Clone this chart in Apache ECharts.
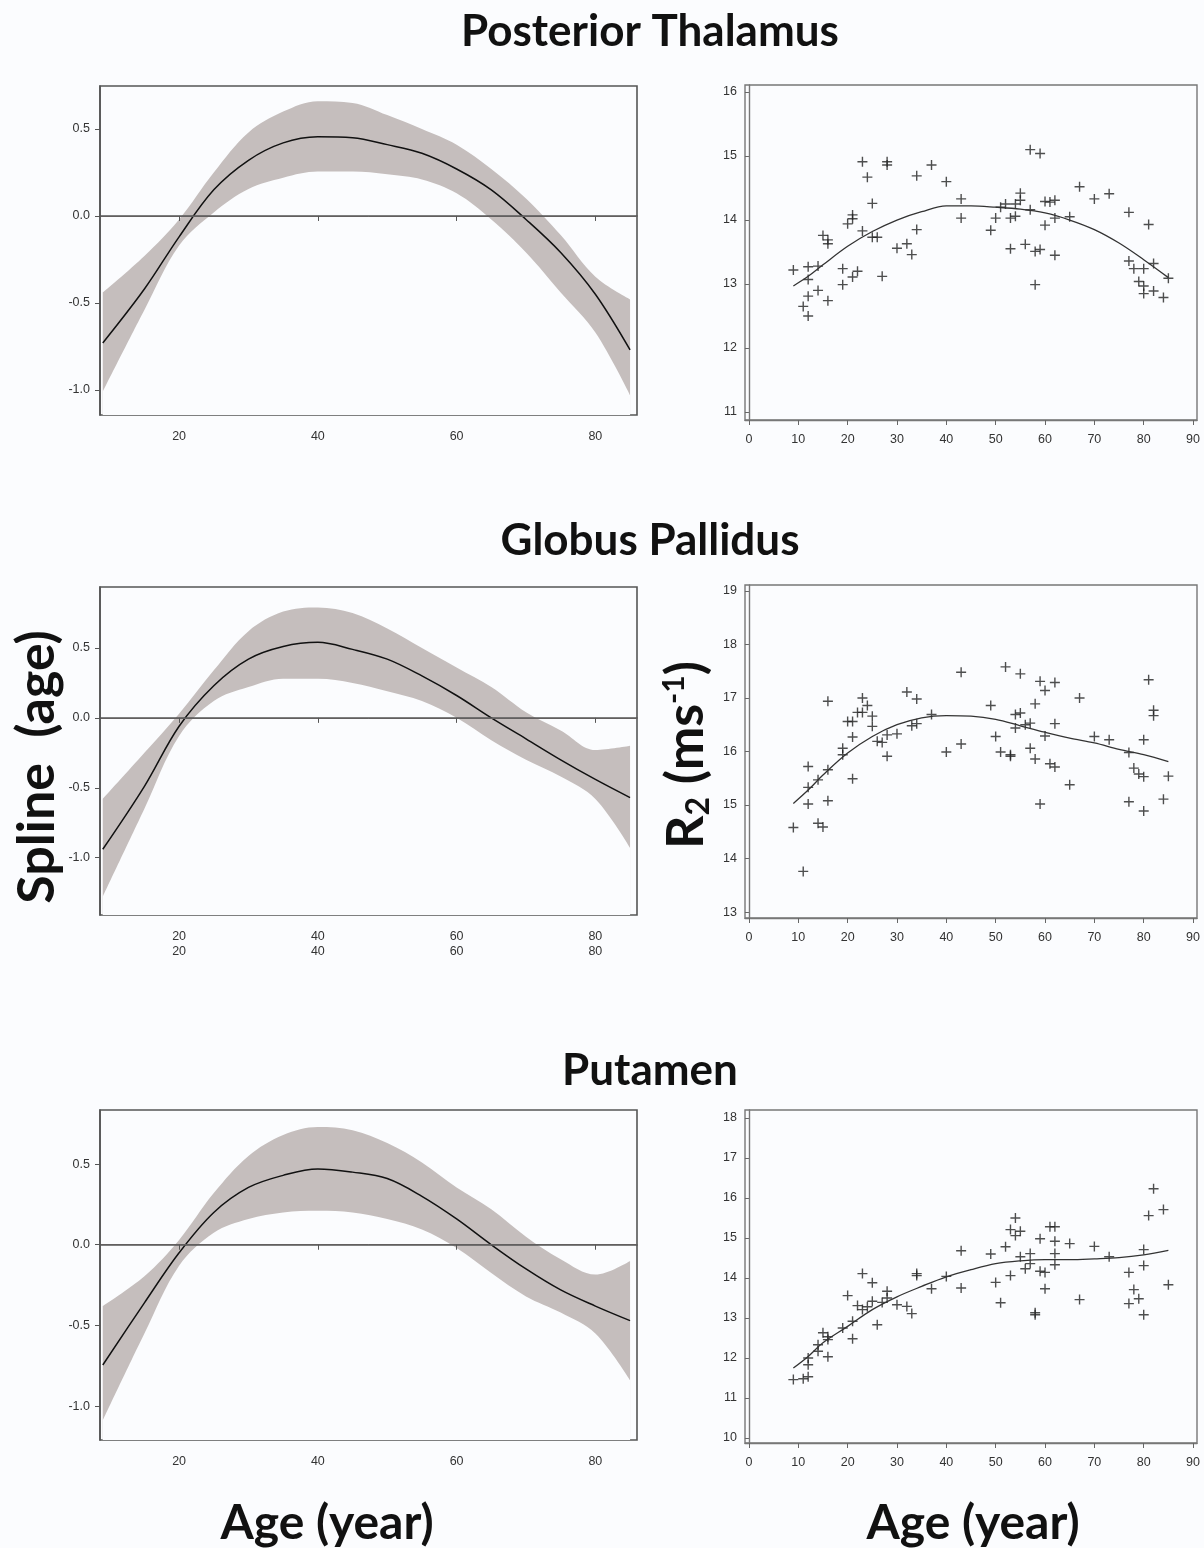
<!DOCTYPE html>
<html>
<head>
<meta charset="utf-8">
<script src="https://cdn.jsdelivr.net/npm/echarts@6/dist/echarts.min.js"></script>
<style>
  html, body { margin: 0; padding: 0; background: #fbfcfe; }
  #chart { width: 1204px; height: 1548px; }
</style>
</head>
<body>
<div id="chart"></div>
<script>
// spline(age) curves, read at these ages
var splineAges = [9, 15, 20, 25, 30, 35, 40, 45, 50, 55, 60, 65, 70, 75, 80, 85]

var thalMean = [-0.73, -0.42, -0.12, 0.15, 0.32, 0.42, 0.455, 0.45, 0.41, 0.36, 0.27, 0.15, -0.02, -0.21, -0.45, -0.77]
var thalUpper = [-0.44, -0.23, -0.02, 0.25, 0.48, 0.60, 0.66, 0.65, 0.58, 0.50, 0.41, 0.27, 0.10, -0.11, -0.35, -0.48]
var thalLower = [-1.01, -0.54, -0.17, 0.02, 0.155, 0.22, 0.255, 0.255, 0.24, 0.21, 0.13, -0.02, -0.21, -0.44, -0.67, -1.03]

var pallMean = [-0.94, -0.49, -0.06, 0.23, 0.42, 0.51, 0.54, 0.49, 0.42, 0.30, 0.16, 0.0, -0.15, -0.30, -0.44, -0.57]
var pallUpper = [-0.58, -0.25, 0.03, 0.34, 0.62, 0.76, 0.79, 0.75, 0.64, 0.50, 0.36, 0.22, 0.04, -0.09, -0.23, -0.20]
var pallLower = [-1.28, -0.65, -0.13, 0.12, 0.22, 0.28, 0.28, 0.25, 0.19, 0.12, 0.0, -0.16, -0.30, -0.42, -0.58, -0.93]

var putMean = [-0.745, -0.36, -0.05, 0.20, 0.355, 0.43, 0.47, 0.45, 0.41, 0.30, 0.16, 0.0, -0.15, -0.28, -0.38, -0.47]
var putUpper = [-0.38, -0.195, 0.03, 0.32, 0.55, 0.68, 0.73, 0.71, 0.63, 0.51, 0.355, 0.22, 0.05, -0.09, -0.185, -0.10]
var putLower = [-1.09, -0.55, -0.13, 0.075, 0.16, 0.20, 0.21, 0.20, 0.16, 0.095, -0.02, -0.175, -0.32, -0.42, -0.55, -0.84]

// R2 fitted curves
var fitAges = [9, 12, 15, 20, 25, 30, 35, 40, 45, 50, 55, 60, 65, 70, 75, 80, 85]
var thalFit = [12.97, 13.12, 13.30, 13.59, 13.82, 14.00, 14.13, 14.22, 14.22, 14.20, 14.17, 14.11, 14.00, 13.85, 13.64, 13.38, 13.10]
var pallFit = [15.03, 15.28, 15.56, 15.97, 16.28, 16.50, 16.63, 16.67, 16.66, 16.60, 16.48, 16.36, 16.25, 16.16, 16.04, 15.94, 15.81]
var putFit = [11.75, 12.04, 12.38, 12.79, 13.21, 13.53, 13.79, 14.03, 14.21, 14.36, 14.43, 14.46, 14.46, 14.48, 14.51, 14.58, 14.69]

// subjects (age, R2)
var thalAge = [9, 11, 12, 12, 12, 12, 14, 14, 15, 16, 16, 16, 19, 19, 20, 21, 21, 21, 22, 23, 23, 24, 25, 25, 26, 27, 28, 28, 30, 32, 33, 34, 34, 37, 40, 43, 43, 49, 50, 51, 52, 53, 53, 54, 54, 55, 55, 56, 57, 57, 58, 58, 59, 59, 60, 60, 61, 62, 62, 62, 65, 67, 70, 73, 77, 77, 78, 79, 80, 80, 80, 81, 82, 82, 84, 85]
var thalR2 = [13.22, 12.65, 13.27, 13.07, 12.81, 12.5, 13.28, 12.9, 13.76, 13.69, 13.63, 12.74, 13.24, 12.99, 13.94, 14.08, 14.02, 13.11, 13.2, 14.91, 13.83, 14.67, 14.26, 13.73, 13.73, 13.12, 14.91, 14.86, 13.56, 13.63, 13.46, 14.69, 13.85, 14.86, 14.6, 14.33, 14.03, 13.84, 14.03, 14.2, 14.25, 14.03, 13.55, 14.06, 14.25, 14.42, 14.31, 13.62, 15.1, 14.16, 13.51, 12.99, 15.04, 13.54, 14.29, 13.92, 14.28, 14.31, 14.03, 13.45, 14.05, 14.52, 14.33, 14.41, 14.12, 13.36, 13.24, 13.04, 13.24, 12.97, 12.85, 13.93, 13.32, 12.89, 12.79, 13.09]

var pallAge = [9, 11, 12, 12, 12, 14, 14, 15, 16, 16, 16, 19, 19, 20, 21, 21, 21, 22, 23, 23, 24, 25, 25, 26, 27, 28, 28, 30, 32, 33, 34, 34, 37, 40, 43, 43, 49, 50, 51, 52, 53, 53, 54, 54, 55, 55, 56, 57, 57, 58, 58, 59, 59, 60, 60, 61, 62, 62, 62, 65, 67, 70, 73, 77, 77, 78, 79, 80, 80, 80, 81, 82, 82, 84, 85]
var pallR2 = [14.58, 13.76, 15.72, 15.33, 15.02, 15.47, 14.66, 14.59, 16.94, 15.66, 15.08, 16.06, 15.94, 16.56, 16.56, 16.27, 15.49, 16.73, 17.0, 16.73, 16.86, 16.66, 16.47, 16.19, 16.17, 16.31, 15.91, 16.33, 17.11, 16.48, 16.98, 16.52, 16.69, 15.99, 17.48, 16.14, 16.86, 16.28, 15.99, 17.58, 15.94, 15.91, 16.69, 16.44, 17.45, 16.72, 16.5, 16.53, 16.06, 16.89, 15.86, 17.31, 15.02, 17.14, 16.29, 15.77, 17.29, 16.52, 15.71, 15.38, 17.0, 16.28, 16.22, 15.98, 15.06, 15.69, 15.58, 16.22, 15.53, 14.89, 17.34, 16.77, 16.67, 15.11, 15.54]

var putAge = [9, 11, 12, 12, 12, 14, 14, 15, 16, 16, 16, 19, 20, 21, 21, 22, 23, 23, 24, 25, 25, 26, 27, 28, 28, 30, 32, 33, 34, 34, 37, 40, 43, 43, 49, 50, 51, 52, 53, 53, 54, 54, 55, 55, 56, 57, 57, 58, 58, 59, 59, 60, 60, 61, 62, 62, 62, 62, 65, 67, 70, 73, 77, 77, 78, 79, 80, 80, 80, 81, 82, 84, 85]
var putR2 = [11.46, 11.48, 11.53, 11.83, 12.0, 12.17, 12.33, 12.63, 12.03, 12.46, 12.53, 12.75, 13.56, 12.48, 12.92, 13.31, 14.11, 13.21, 13.28, 13.88, 13.42, 12.83, 13.39, 13.67, 13.5, 13.33, 13.29, 13.11, 14.11, 14.06, 13.73, 14.04, 14.68, 13.75, 14.6, 13.89, 13.38, 14.78, 15.21, 14.06, 15.5, 15.06, 15.17, 14.53, 14.23, 14.61, 14.36, 13.13, 13.08, 14.98, 14.17, 14.14, 13.73, 15.28, 15.28, 14.92, 14.61, 14.33, 14.86, 13.46, 14.79, 14.53, 14.14, 13.36, 13.71, 13.48, 14.71, 14.31, 13.08, 15.56, 16.23, 15.71, 13.83]

var titles = ['Posterior Thalamus', 'Globus Pallidus', 'Putamen']

var chart = echarts.init(document.getElementById('chart'))

var bg = '#fbfcfe'
var bandColor = '#c5bebd'
var tickFont = {
  color: '#333',
  fontFamily: 'Liberation Sans Narrow, Liberation Sans, Arial',
  fontSize: 12.5
}
var bigFont = 'Lato'
var plusPath = 'path://M4.3,0h1.4v4.3h4.3v1.4h-4.3v4.3h-1.4v-4.3h-4.3v-1.4h4.3z'

function pairs (xs, ys) {
  return xs.map(function (x, i) { return [x, ys[i]] })
}

var grids = [
  { left: 100, top: 86, width: 537, height: 329 },
  { left: 745, top: 85, width: 452, height: 335 },
  { left: 100, top: 587, width: 537, height: 328 },
  { left: 745, top: 585, width: 452, height: 333 },
  { left: 100, top: 1110, width: 537, height: 330 },
  { left: 745, top: 1110, width: 452, height: 333 }
]
grids.forEach(function (g, i) {
  g.show = true
  g.borderColor = i % 2 ? '#777' : '#555'
  g.borderWidth = i % 2 ? 1.4 : 1.6
  g.backgroundColor = 'transparent'
  g.containLabel = false
})

var splineY = [
  { min: -1.144, max: 0.747 },
  { min: -1.41, max: 0.936 },
  { min: -1.21, max: 0.835 }
]
var r2Y = [
  { min: 10.875, max: 16.11, ticks: [11, 12, 13, 14, 15, 16] },
  { min: 12.89, max: 19.11, ticks: [13, 14, 15, 16, 17, 18, 19] },
  { min: 9.875, max: 18.2, ticks: [10, 11, 12, 13, 14, 15, 16, 17, 18] }
]
var spl = [
  [thalMean, thalUpper, thalLower],
  [pallMean, pallUpper, pallLower],
  [putMean, putUpper, putLower]
]
var fits = [thalFit, pallFit, putFit]
var pts = [[thalAge, thalR2], [pallAge, pallR2], [putAge, putR2]]

var xAxes = []
var yAxes = []
var series = []

for (var p = 0; p < 3; p++) {
  var gl = p * 2
  var gr = p * 2 + 1
  var doubled = p === 1

  // left: spline(age)
  xAxes.push({
    type: 'value',
    gridIndex: gl,
    min: 8.6,
    max: 86,
    z: 10,
    splitLine: { show: false },
    axisLine: { lineStyle: { color: '#555', width: 1.6 } },
    axisTick: { length: 5, customValues: [20, 40, 60, 80], lineStyle: { color: '#555' } },
    axisLabel: Object.assign({
      margin: 14,
      lineHeight: 15,
      customValues: [20, 40, 60, 80],
      formatter: doubled ? function (v) { return v + '\n' + v } : function (v) { return '' + v }
    }, tickFont)
  })
  yAxes.push({
    type: 'value',
    gridIndex: gl,
    min: splineY[p].min,
    max: splineY[p].max,
    z: 10,
    splitLine: { show: false },
    axisLine: { lineStyle: { color: '#555', width: 1.6 } },
    axisTick: { length: 5, customValues: [-1, -0.5, 0, 0.5], lineStyle: { color: '#555' } },
    axisLabel: Object.assign({
      margin: 10,
      customValues: [-1, -0.5, 0, 0.5],
      formatter: function (v) { return v.toFixed(1) }
    }, tickFont)
  })

  // right: R2 vs age
  xAxes.push({
    type: 'value',
    gridIndex: gr,
    min: -0.8,
    max: 90.8,
    splitLine: { show: false },
    axisLine: { lineStyle: { color: '#777', width: 1.4 } },
    axisTick: { length: 5, customValues: [0, 10, 20, 30, 40, 50, 60, 70, 80, 90], lineStyle: { color: '#666' } },
    axisLabel: Object.assign({
      margin: 13,
      customValues: [0, 10, 20, 30, 40, 50, 60, 70, 80, 90]
    }, tickFont)
  })
  yAxes.push({
    type: 'value',
    gridIndex: gr,
    min: r2Y[p].min,
    max: r2Y[p].max,
    splitLine: { show: false },
    axisLine: { lineStyle: { color: '#777', width: 1.4 } },
    axisTick: { length: 4, customValues: r2Y[p].ticks, lineStyle: { color: '#666' } },
    axisLabel: Object.assign({ margin: 8, customValues: r2Y[p].ticks }, tickFont)
  })

  var m = spl[p][0]
  var up = spl[p][1]
  var lo = spl[p][2]

  // confidence band: upper area filled down, then lower area masked with background
  series.push({
    type: 'line',
    xAxisIndex: gl,
    yAxisIndex: gl,
    smooth: 0.35,
    symbol: 'none',
    lineStyle: { opacity: 0 },
    areaStyle: { color: bandColor, opacity: 1, origin: 'start' },
    data: pairs(splineAges, up),
    silent: true,
    z: 1
  })
  series.push({
    type: 'line',
    xAxisIndex: gl,
    yAxisIndex: gl,
    smooth: 0.35,
    symbol: 'none',
    lineStyle: { opacity: 0 },
    areaStyle: { color: bg, opacity: 1, origin: 'start' },
    data: pairs(splineAges, lo),
    silent: true,
    z: 2
  })
  series.push({
    type: 'line',
    xAxisIndex: gl,
    yAxisIndex: gl,
    smooth: 0.35,
    symbol: 'none',
    lineStyle: { color: '#111', width: 1.5 },
    data: pairs(splineAges, m),
    z: 3,
    markLine: {
      silent: true,
      symbol: 'none',
      label: { show: false },
      lineStyle: { color: '#8a7f7c', width: 1, type: 'solid' },
      data: [{ yAxis: 0 }]
    }
  })

  // scatter + fitted line
  series.push({
    type: 'scatter',
    xAxisIndex: gr,
    yAxisIndex: gr,
    symbol: plusPath,
    symbolSize: 10,
    itemStyle: { color: '#222' },
    data: pairs(pts[p][0], pts[p][1])
  })
  series.push({
    type: 'line',
    xAxisIndex: gr,
    yAxisIndex: gr,
    smooth: 0.35,
    symbol: 'none',
    lineStyle: { color: '#333', width: 1.3 },
    data: pairs(fitAges, fits[p])
  })
}

var titleOpts = [
  { text: titles[0], left: 645, top: 5, size: 44 },
  { text: titles[1], left: 645, top: 514, size: 44 },
  { text: titles[2], left: 645, top: 1044, size: 44 },
  { text: 'Age (year)', left: 322, top: 1495, size: 48 },
  { text: 'Age (year)', left: 968, top: 1495, size: 48 }
].map(function (t) {
  return {
    text: t.text,
    left: t.left,
    top: t.top,
    textAlign: 'center',
    textStyle: { fontFamily: bigFont, fontWeight: 'bold', fontSize: t.size, color: '#111' }
  }
})

chart.setOption({
  backgroundColor: bg,
  animation: false,
  title: titleOpts,
  grid: grids,
  xAxis: xAxes,
  yAxis: yAxes,
  series: series,
  // rotated y-axis titles
  graphic: [
    {
      type: 'text',
      x: 37,
      y: 767,
      rotation: Math.PI / 2,
      style: {
        text: 'Spline  (age)',
        fill: '#111',
        font: 'bold 52px Lato',
        align: 'center',
        verticalAlign: 'middle'
      }
    },
    {
      type: 'text',
      x: 686,
      y: 755,
      rotation: Math.PI / 2,
      style: {
        text: '{r|R}{s|2}{r| (ms}{u|-1}{r|)}',
        align: 'center',
        verticalAlign: 'middle',
        rich: {
          r: { fontFamily: bigFont, fontWeight: 'bold', fontSize: 52, fill: '#111' },
          s: { fontFamily: bigFont, fontWeight: 'bold', fontSize: 32, fill: '#111', padding: [26, 0, 0, 0] },
          u: { fontFamily: bigFont, fontWeight: 'bold', fontSize: 30, fill: '#111', padding: [0, 0, 24, 0] }
        }
      }
    }
  ]
})
</script>
</body>
</html>
